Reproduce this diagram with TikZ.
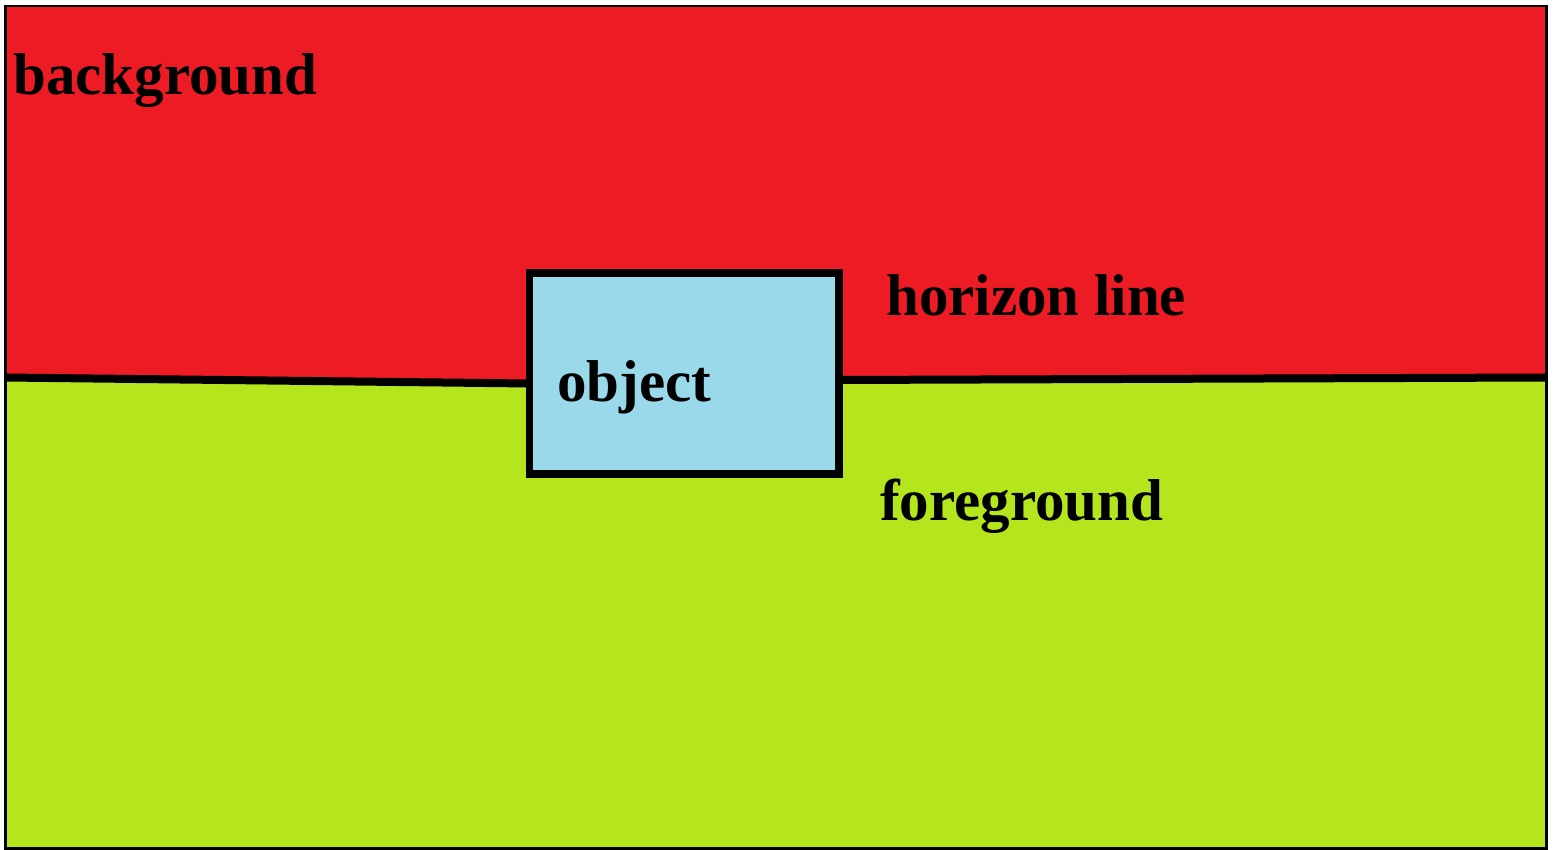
\documentclass[tikz,border=0pt]{standalone}
\usepackage{fontspec}
\setmainfont{Liberation Serif}
\usepackage{tikz}
\usetikzlibrary{calc}

\definecolor{skyred}{HTML}{ED1C24}
\definecolor{groundgreen}{HTML}{B5E61D}
\definecolor{objblue}{HTML}{99D9EA}

\tikzset{
  label text/.style = {anchor=base west, inner sep=0pt, font=\fontsize{59}{61}\selectfont\bfseries},
}

\begin{document}
\begin{tikzpicture}[x=1pt, y=-1pt]
\useasboundingbox (0,0) rectangle (1553,850);

\coordinate (tl) at (5.5,6);
\coordinate (br) at (1546.5,848.5);
\coordinate (hl) at (5.5,377.5);
\coordinate (ho1) at (529.5,383.5);
\coordinate (ho2) at (839,380);
\coordinate (hr) at (1546.5,377.5);

\coordinate (o1) at (529.5,273);
\coordinate (o2) at (839,474);

% sky and ground
\fill[skyred] (tl) rectangle (br);
\fill[groundgreen] (hl) -- (ho1) -- (ho2) -- (hr) -- (br) -- (tl |- br) -- cycle;

% horizon
\draw[line width=8pt] (hl) -- (ho1);
\draw[line width=8pt] (ho2) -- (hr);

% object
\draw[line width=7.5pt, fill=objblue] (o1) rectangle (o2);

% frame
\draw[line width=2.5pt] (tl) rectangle (br);

\node[label text] (bg) at (13,95) {background};
\node[label text] (obj) at (557,401) {object};
\node[label text] (hor) at (886,316) {horizon line};
\node[label text] (fg) at (880,520) {foreground};

\end{tikzpicture}
\end{document}
